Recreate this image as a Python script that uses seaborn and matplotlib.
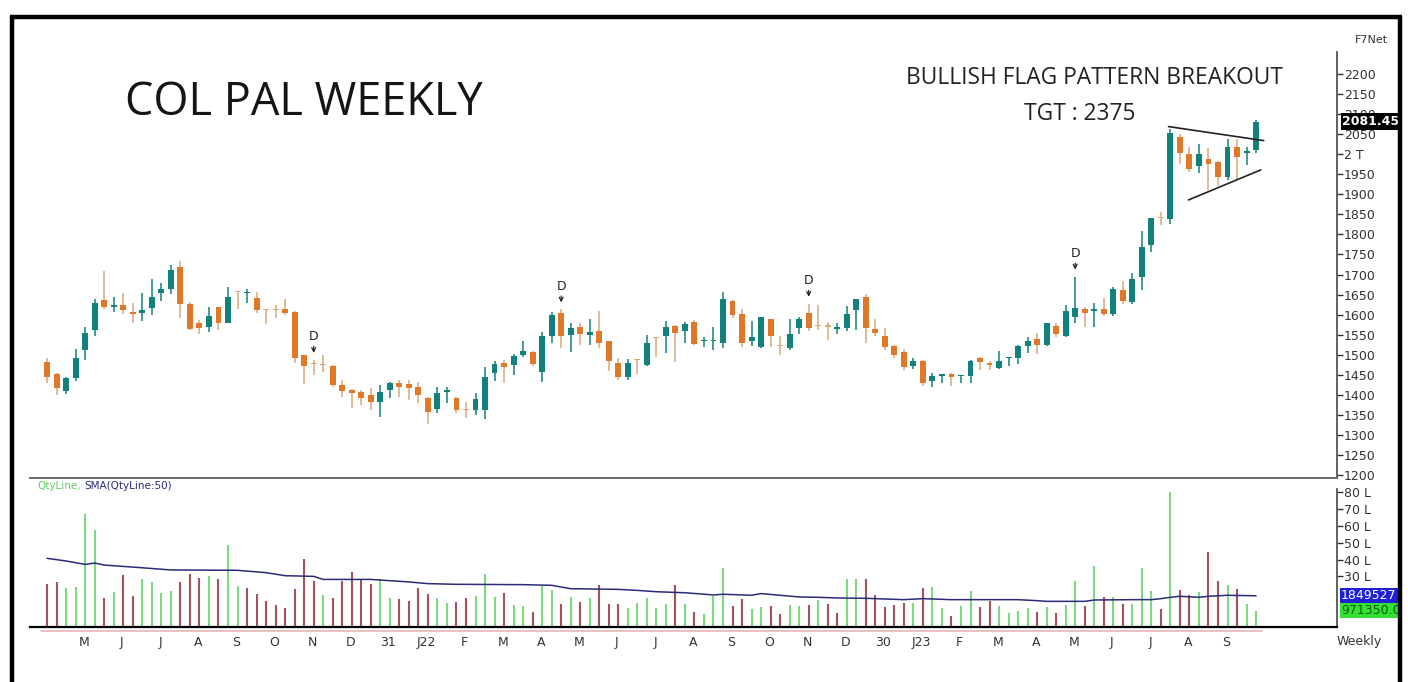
import numpy as np
import matplotlib
matplotlib.use('Agg')
import matplotlib.pyplot as plt
import matplotlib.transforms as mtransforms
from matplotlib.lines import Line2D
import seaborn as sns

# weekly OHLC (128 weeks)
opens = [1483, 1452, 1410, 1443, 1512, 1562, 1636, 1618, 1624, 1607,
         1603, 1616, 1655, 1665, 1718, 1626, 1578, 1570, 1618, 1580,
         1656, 1653, 1642, 1611, 1611, 1613, 1607, 1499, 1476, 1475,
         1472, 1424, 1412, 1408, 1400, 1383, 1412, 1429, 1427, 1419,
         1391, 1364, 1408, 1391, 1362, 1362, 1362, 1454, 1480, 1474,
         1499, 1508, 1458, 1547, 1603, 1549, 1568, 1549, 1560, 1534,
         1479, 1445, 1487, 1474, 1541, 1547, 1572, 1558, 1582, 1533,
         1534, 1528, 1635, 1602, 1535, 1518, 1588, 1522, 1516, 1566,
         1603, 1572, 1570, 1565, 1566, 1612, 1643, 1563, 1547, 1522,
         1508, 1472, 1485, 1435, 1448, 1451, 1446, 1447, 1491, 1480,
         1466, 1492, 1493, 1522, 1538, 1524, 1572, 1547, 1595, 1613,
         1610, 1613, 1602, 1661, 1632, 1695, 1774, 1840, 1838, 2042,
         2000, 1971, 1987, 1981, 1944, 2017, 2004, 2011]
highs = [1491, 1455, 1445, 1513, 1570, 1640, 1709, 1645, 1655, 1628,
         1653, 1689, 1680, 1724, 1734, 1632, 1586, 1620, 1620, 1668,
         1658, 1665, 1657, 1613, 1624, 1640, 1608, 1500, 1487, 1499,
         1474, 1437, 1414, 1412, 1416, 1424, 1433, 1437, 1437, 1433,
         1395, 1420, 1420, 1395, 1383, 1404, 1469, 1485, 1487, 1503,
         1535, 1510, 1557, 1607, 1613, 1578, 1580, 1588, 1610, 1535,
         1491, 1489, 1489, 1549, 1543, 1585, 1575, 1582, 1587, 1543,
         1568, 1657, 1637, 1613, 1585, 1595, 1590, 1547, 1588, 1593,
         1627, 1624, 1582, 1578, 1621, 1640, 1651, 1588, 1566, 1523,
         1513, 1491, 1487, 1455, 1452, 1454, 1449, 1488, 1495, 1485,
         1510, 1495, 1524, 1543, 1553, 1580, 1578, 1624, 1695, 1620,
         1630, 1641, 1668, 1685, 1705, 1809, 1842, 1857, 2062, 2050,
         2019, 2025, 2015, 1983, 2037, 2037, 2019, 2085]
lows = [1430, 1400, 1402, 1435, 1487, 1547, 1613, 1607, 1601, 1580,
        1584, 1599, 1635, 1651, 1591, 1562, 1551, 1557, 1562, 1578,
        1613, 1628, 1603, 1576, 1591, 1599, 1480, 1428, 1449, 1458,
        1420, 1395, 1366, 1375, 1362, 1344, 1391, 1395, 1387, 1379,
        1327, 1354, 1380, 1354, 1341, 1350, 1339, 1435, 1429, 1449,
        1495, 1472, 1433, 1528, 1516, 1508, 1524, 1524, 1516, 1460,
        1437, 1437, 1452, 1472, 1495, 1505, 1483, 1530, 1525, 1518,
        1512, 1516, 1591, 1518, 1522, 1516, 1520, 1499, 1512, 1552,
        1560, 1562, 1537, 1552, 1560, 1562, 1528, 1547, 1512, 1491,
        1462, 1464, 1422, 1419, 1429, 1422, 1429, 1430, 1462, 1462,
        1464, 1472, 1478, 1505, 1503, 1522, 1545, 1545, 1580, 1568,
        1568, 1597, 1597, 1626, 1626, 1661, 1755, 1824, 1826, 1976,
        1956, 1952, 1912, 1921, 1936, 1936, 1973, 2004]
closes = [1445, 1416, 1441, 1493, 1555, 1630, 1618, 1625, 1611, 1601,
          1611, 1643, 1665, 1711, 1626, 1564, 1566, 1597, 1580, 1645,
          1656, 1656, 1611, 1611, 1611, 1605, 1491, 1472, 1476, 1475,
          1424, 1410, 1404, 1391, 1383, 1408, 1430, 1420, 1416, 1400,
          1358, 1405, 1411, 1362, 1362, 1389, 1445, 1478, 1470, 1497,
          1510, 1478, 1547, 1599, 1547, 1566, 1552, 1557, 1530, 1485,
          1445, 1480, 1487, 1530, 1541, 1570, 1553, 1577, 1527, 1536,
          1537, 1638, 1599, 1528, 1543, 1593, 1547, 1522, 1552, 1588,
          1566, 1572, 1570, 1567, 1602, 1638, 1566, 1553, 1518, 1499,
          1469, 1485, 1429, 1447, 1451, 1444, 1448, 1485, 1483, 1474,
          1485, 1494, 1522, 1533, 1524, 1578, 1552, 1610, 1616, 1605,
          1613, 1602, 1663, 1635, 1690, 1769, 1840, 1840, 2054, 2002,
          1962, 2000, 1976, 1944, 2019, 1992, 2008, 2081.45]

# weekly quantity in lakhs, u = green bar, d = maroon bar
volume = [25.3, 26.9, 23.3, 23.7, 67.1, 57.3, 17.4, 20.9, 30.8, 18.2,
          28.4, 26.9, 20.3, 21.3, 26.9, 31.2, 29.2, 30.2, 28.4, 48.6,
          24.3, 22.9, 19.7, 15.4, 13.0, 11.5, 22.7, 40.1, 27.3, 19.0,
          17.4, 27.3, 32.6, 28.2, 25.3, 28.2, 17.4, 16.8, 15.4, 23.3,
          19.7, 17.4, 14.4, 15.0, 17.4, 18.4, 31.6, 18.0, 20.3, 13.0,
          12.6, 9.1, 24.3, 21.9, 13.8, 17.8, 15.0, 17.4, 24.9, 13.8,
          13.8, 11.5, 14.2, 17.0, 11.5, 13.4, 24.9, 13.8, 9.1, 7.9,
          18.4, 35.1, 12.4, 16.8, 10.5, 12.0, 12.6, 7.6, 12.8, 12.2,
          13.2, 16.2, 13.6, 8.2, 28.2, 28.2, 28.6, 19.2, 11.6, 13.2,
          14.2, 14.2, 23.2, 23.6, 11.2, 6.8, 12.4, 21.2, 11.8, 15.2,
          12.4, 8.2, 9.6, 11.2, 8.8, 11.8, 8.2, 12.8, 27.2, 12.6,
          36.2, 17.6, 17.6, 13.6, 13.6, 35.2, 21.6, 10.8, 80.2, 22.2,
          18.8, 20.8, 44.6, 27.2, 24.8, 22.8, 13.6, 9.7135]
vol_dir = ("dduuuududd" "uuuudddudu" "uddddddddu" "ddddduuddd" "duudduuudu"
           "uduudududd" "duuuuududu" "uudduudduu" "dudduudddd" "duduuduudd"
           "uuuududuud" "ududuuudud" "dudduduu")

# SMA(50) of quantity, read at points along the line
sma_week = [0, 2, 4, 5, 6, 8, 10, 13, 20, 23, 25, 28, 29, 34, 38, 40, 43, 50, 53,
            55, 60, 62, 64, 67, 70, 71, 74, 75, 77, 79, 81, 83, 86, 90, 92, 95,
            102, 104, 105, 109, 110, 114, 116, 117, 118, 119, 121, 122, 124, 127]
sma_value = [40.7, 39.1, 37.1, 37.9, 36.7, 35.9, 35.1, 33.8, 33.6, 32.2, 30.4, 30.0,
             28.2, 28.2, 26.7, 25.7, 25.3, 25.1, 24.7, 22.7, 22.3, 21.7, 20.9, 20.3,
             19.0, 19.4, 18.8, 19.8, 18.8, 17.8, 17.6, 17.2, 17.0, 16.2, 16.8, 16.2,
             16.2, 15.6, 15.2, 15.2, 16.0, 16.2, 16.2, 16.8, 17.6, 18.2, 17.6, 18.2,
             18.8, 18.5]

month_labels = ['M', 'J', 'J', 'A', 'S', 'O', 'N', 'D', '31', 'J22', 'F', 'M', 'A', 'M',
                'J', 'J', 'A', 'S', 'O', 'N', 'D', '30', 'J23', 'F', 'M', 'A', 'M', 'J',
                'J', 'A', 'S']
d_weeks = [28, 54, 80, 108]
flag_upper_x, flag_upper_y = [117.8, 127.8], [2069, 2034]
flag_lower_x, flag_lower_y = [119.9, 127.5], [1886, 1961]
last_price = 2081.45
last_qty = '971350.0'
sma_last = '1849527'

TEAL = '#13817b'
ORANGE = '#e0782a'
TAN = '#d8a877'
VGREEN = '#7fd87f'
VRED = '#a3515a'

sns.set_style('white')
plt.rcParams['font.family'] = ['DejaVu Sans']

W, H = 1408, 682
fig = plt.figure(figsize=(W / 100, H / 100), dpi=100)
left, right = 30, 1337
ax = fig.add_axes([left / W, 1 - 478 / H, (right - left) / W, (478 - 52) / H])
axv = fig.add_axes([left / W, 1 - 627 / H, (right - left) / W, (627 - 478) / H], sharex=ax)

idx = np.arange(len(closes))
o = np.array(opens, dtype=float)
c = np.array(closes, dtype=float)
body_col = [TEAL if cc > oo else (ORANGE if cc < oo else TAN) for oo, cc in zip(o, c)]
wick_col = [TEAL if cc > oo else TAN for oo, cc in zip(o, c)]

# candles
ax.vlines(idx, lows, highs, colors=wick_col, lw=1.1, zorder=2)
body_h = np.maximum(np.abs(c - o), 3)
ax.bar(idx, body_h, bottom=np.minimum(o, c), width=0.62, color=body_col, lw=0, zorder=3)

# flag lines
ax.plot(flag_upper_x, flag_upper_y, color='#222222', lw=1.2, zorder=4)
ax.plot(flag_lower_x, flag_lower_y, color='#222222', lw=1.2, zorder=4)

# D marks
for i in d_weeks:
    ax.annotate('D', xy=(i, highs[i]), xytext=(0, 12), textcoords='offset points',
                ha='center', va='bottom', fontsize=9, color='#222222',
                arrowprops=dict(arrowstyle='->', lw=0.9, color='#222222',
                                shrinkA=0, shrinkB=5, mutation_scale=7))

ax.set_xlim(-1.8, 135.5)
ax.set_ylim(1192.5, 2255)
ax.yaxis.tick_right()
price_ticks = np.arange(1200, 2201, 50)
ax.set_yticks(price_ticks)
ax.set_yticklabels(['2 T' if t == 2000 else str(t) for t in price_ticks])
ax.tick_params(axis='y', direction='out', length=4, width=1, labelsize=9,
               colors='#333333', pad=1)
ax.tick_params(axis='x', bottom=False, labelbottom=False)
for s in ['left', 'top', 'bottom']:
    ax.spines[s].set_visible(False)
ax.spines['right'].set_color('#555555')
ax.spines['right'].set_linewidth(1.3)

trans = mtransforms.blended_transform_factory(ax.transAxes, ax.transData)
ax.text(1.004, last_price, f'{last_price:.2f}', transform=trans, color='white',
        fontsize=9, fontweight='bold', va='center', ha='left', zorder=10,
        bbox=dict(facecolor='black', edgecolor='none', pad=1.2))

# volume panel
vcol = [VGREEN if d == 'u' else VRED for d in vol_dir]
axv.vlines(idx, 0, volume, colors=vcol, lw=1.5, zorder=2)
sns.lineplot(x=sma_week, y=sma_value, ax=axv, color='#2b2b7a', lw=1.1, zorder=3)

axv.set_ylim(0, 88.3)
axv.yaxis.tick_right()
axv.set_yticks([30, 40, 50, 60, 70, 80])
axv.set_yticklabels([f'{v} L' for v in [30, 40, 50, 60, 70, 80]])
axv.tick_params(axis='y', direction='out', length=4, width=1, labelsize=9,
                colors='#333333', pad=1)
axv.spines['left'].set_visible(False)
axv.spines['right'].set_color('#555555')
axv.spines['right'].set_linewidth(1.3)
axv.spines['right'].set_bounds(0, 82)
axv.spines['top'].set_color('#666666')
axv.spines['top'].set_linewidth(1.4)
axv.spines['bottom'].set_color('black')
axv.spines['bottom'].set_linewidth(1.6)

axv.set_xticks(np.arange(4, 128, 4) - 0.15)
axv.set_xticklabels(month_labels)
axv.tick_params(axis='x', direction='out', length=5, width=1, color='#e4a8a8',
                labelsize=9, labelcolor='#333333', pad=1.5)
axv.plot([-0.6, 127.6], [-2.2, -2.2], color='#e8b4b4', lw=1.2, clip_on=False)
axv.set_xlabel('')
axv.set_ylabel('')

tv = mtransforms.blended_transform_factory(axv.transAxes, axv.transData)
axv.text(1.003, 18.5, sma_last, transform=tv, color='white', fontsize=9,
         va='center', ha='left', zorder=10,
         bbox=dict(facecolor='#1f1fd6', edgecolor='none', pad=1.0))
axv.text(1.003, volume[-1], last_qty, transform=tv, color='#0b5e0b', fontsize=9,
         va='center', ha='left', zorder=10,
         bbox=dict(facecolor='#33e033', edgecolor='none', pad=1.0))

# texts
fig.text(125 / W, 1 - 103 / H, 'COL PAL WEEKLY', fontsize=32.5, family='Open Sans',
         color='#151515', va='center', ha='left')
fig.text(1094 / W, 1 - 78 / H, 'BULLISH FLAG PATTERN BREAKOUT', fontsize=16.4,
         family='Open Sans', color='#222222', va='center', ha='center')
fig.text(1080 / W, 1 - 114 / H, 'TGT : 2375', fontsize=16.4, family='Open Sans',
         color='#222222', va='center', ha='center')
fig.text(1371 / W, 1 - 40 / H, 'F7Net', fontsize=8, color='#333333',
         va='center', ha='center')
fig.text(1359 / W, 1 - 641 / H, 'Weekly', fontsize=9, color='#333333',
         va='center', ha='center')
fig.text(37 / W, 1 - 486 / H, 'QtyLine,', fontsize=7.5, color='#66cc66',
         va='center', ha='left')
fig.text(84 / W, 1 - 486 / H, 'SMA(QtyLine:50)', fontsize=7.5, color='#2b2b7a',
         va='center', ha='left')

# black frame of the screenshot
frame = dict(color='black', lw=3.2, solid_capstyle='butt')
fig.add_artist(Line2D([10 / W, 1402 / W], [1 - 17 / H, 1 - 17 / H], **frame))
fig.add_artist(Line2D([12 / W, 12 / W], [0, 1 - 16 / H], **frame))
fig.add_artist(Line2D([1400 / W, 1400 / W], [0, 1 - 16 / H], **frame))

fig.savefig('out.png', dpi=100, facecolor='white')
